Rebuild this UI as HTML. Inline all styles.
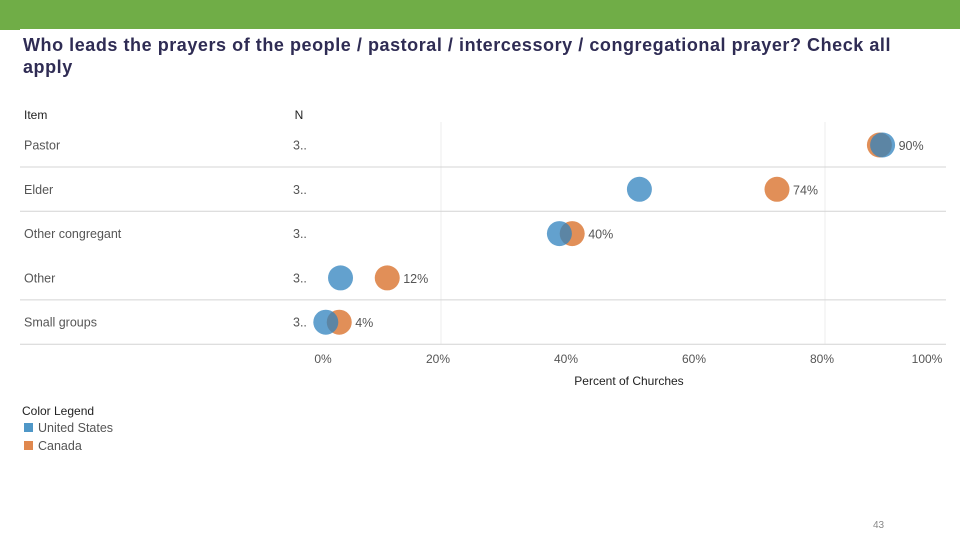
<!DOCTYPE html>
<html><head><meta charset="utf-8"><style>
body{margin:0;width:960px;height:540px;background:#fff;overflow:hidden;font-family:"Liberation Sans",sans-serif;position:relative}
.g{position:absolute}
</style></head><body>
<div class="g" style="left:0;top:0;width:960px;height:29px;background:#70ad47"></div>
<div class="g" style="left:0;top:29px;width:20px;height:1px;background:#70ad47"></div>
<div class="g" style="left:23px;top:34px;width:885px;font-size:18px;letter-spacing:0.55px;font-weight:bold;color:#2f2c54;line-height:22px">Who leads the prayers of the people / pastoral / intercessory / congregational prayer? Check all apply</div>
<svg class="g" style="left:0;top:0" width="960" height="540">
<g id="chart"></g>
</svg>
<div class="g" style="left:873px;top:520px;font-size:10px;color:#888">43</div>
<script>
const items=["Pastor","Elder","Other congregant","Other","Small groups"];
const nLabels=["3..","3..","3..","3..","3.."];
const usValues=[89,51,38.5,4.3,2];
const caValues=[88.5,72.5,40.5,11.6,4.1];
const caLabels=["90%","74%","40%","12%","4%"];
const ticks=[0,20,40,60,80,100];
const NS="http://www.w3.org/2000/svg";
const g=document.getElementById('chart');
const x=v=>313+v*6.4;
const rowY=i=>145+i*44.3;
function el(t,a,txt){const e=document.createElementNS(NS,t);for(const k in a)e.setAttribute(k,a[k]);if(txt!=null)e.textContent=txt;g.appendChild(e);return e;}
let h=el('text',{x:24,y:119,'font-size':12,fill:'#222'},'Item');


h=el('text',{x:299,y:119,'font-size':12,fill:'#222','text-anchor':'middle'},'N');


[20,80].forEach(t=>{const l=el('line',{x1:x(t),x2:x(t),y1:122,y2:344,stroke:'#eee'});

});
[0,1,3,4].forEach(i=>{const y=rowY(i)+22;const l=el('line',{x1:20,x2:946,y1:y,y2:y,stroke:'#d4d4d4'});

});
items.forEach((it,i)=>{
const y=rowY(i);
let t=el('text',{x:24,y:y+4.5,'font-size':12.5,fill:'#555'},it);


t=el('text',{x:293,y:y+4.5,'font-size':12.5,fill:'#555'},nLabels[i]);


let c=el('circle',{cx:x(caValues[i]),cy:y,r:12.5,fill:'#db7633','fill-opacity':0.82});


c=el('circle',{cx:x(usValues[i]),cy:y,r:12.5,fill:'#2f82bd','fill-opacity':0.75});


const lx=Math.max(x(caValues[i]),x(usValues[i]))+16;
t=el('text',{x:lx,y:y+5,'font-size':12.5,fill:'#555'},caLabels[i]);


});
ticks.forEach((t,i)=>{const lx=i==0?323:(i==ticks.length-1?927:x(t)-3);
const e=el('text',{x:lx,y:363,'font-size':12,fill:'#555','text-anchor':'middle'},t+'%');

});
let a=el('text',{x:629,y:385,'font-size':12,fill:'#222','text-anchor':'middle'},'Percent of Churches');


a=el('text',{x:22,y:415,'font-size':12,fill:'#222'},'Color Legend');


[['United States','#4f97c7',432],['Canada','#e0884e',450]].forEach(([n,c,y])=>{
const r=el('rect',{x:24,y:y-9,width:9,height:9,fill:c});


const t=el('text',{x:38,y:y,'font-size':12.5,fill:'#555'},n);

});
</script>
</body></html>
